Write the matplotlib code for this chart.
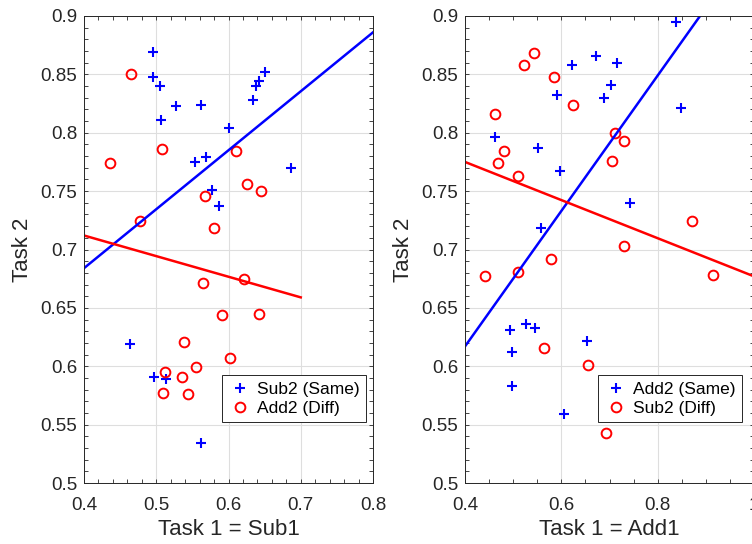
import matplotlib
matplotlib.use('Agg')
import matplotlib.pyplot as plt
from matplotlib.ticker import MultipleLocator, FixedLocator, FixedFormatter

plt.rcParams['font.family'] = ['Liberation Sans', 'DejaVu Sans']

# ---------------- Left panel: Task 1 = Sub1 ----------------
left_same_label = 'Sub2 (Same)'
left_same_x = [0.495, 0.495, 0.505, 0.506, 0.527, 0.562, 0.600, 0.634, 0.638, 0.642,
               0.651, 0.554, 0.569, 0.687, 0.577, 0.587, 0.463, 0.497, 0.513, 0.562]
left_same_y = [0.869, 0.848, 0.840, 0.811, 0.823, 0.824, 0.804, 0.828, 0.840, 0.844,
               0.852, 0.775, 0.779, 0.770, 0.751, 0.737, 0.619, 0.591, 0.589, 0.534]
left_diff_label = 'Add2 (Diff)'
left_diff_x = [0.465, 0.436, 0.508, 0.611, 0.626, 0.645, 0.568, 0.477, 0.580, 0.565,
               0.622, 0.591, 0.642, 0.539, 0.602, 0.555, 0.512, 0.536, 0.510, 0.544]
left_diff_y = [0.850, 0.7745, 0.786, 0.784, 0.756, 0.750, 0.746, 0.724, 0.718, 0.671,
               0.675, 0.644, 0.645, 0.621, 0.607, 0.599, 0.595, 0.591, 0.577, 0.576]
left_same_fit_x = [0.4, 0.8]
left_same_fit_y = [0.684, 0.886]
left_diff_fit_x = [0.4, 0.7]
left_diff_fit_y = [0.712, 0.659]

# ---------------- Right panel: Task 1 = Add1 ----------------
right_same_label = 'Add2 (Same)'
right_same_x = [0.838, 0.623, 0.673, 0.716, 0.703, 0.689, 0.590, 0.849, 0.462, 0.552,
                0.598, 0.742, 0.558, 0.493, 0.527, 0.545, 0.654, 0.498, 0.498, 0.606]
right_same_y = [0.895, 0.858, 0.866, 0.860, 0.841, 0.830, 0.832, 0.821, 0.796, 0.787,
                0.767, 0.740, 0.718, 0.631, 0.636, 0.633, 0.622, 0.612, 0.583, 0.559]
right_diff_label = 'Sub2 (Diff)'
right_diff_x = [0.543, 0.523, 0.585, 0.625, 0.463, 0.711, 0.731, 0.482, 0.468, 0.706,
                0.509, 0.871, 0.730, 0.579, 0.442, 0.509, 0.914, 0.565, 0.655, 0.692]
right_diff_y = [0.868, 0.858, 0.848, 0.824, 0.816, 0.800, 0.793, 0.784, 0.774, 0.776,
                0.763, 0.724, 0.703, 0.692, 0.677, 0.681, 0.678, 0.616, 0.601, 0.543]
right_same_fit_x = [0.4, 1.0]
right_same_fit_y = [0.617, 0.965]
right_diff_fit_x = [0.4, 1.0]
right_diff_fit_y = [0.775, 0.677]

y_label = 'Task 2'
left_xlabel = 'Task 1 = Sub1'
right_xlabel = 'Task 1 = Add1'
left_xticks = [0.4, 0.5, 0.6, 0.7, 0.8]
left_xticklabels = ['0.4', '0.5', '0.6', '0.7', '0.8']
right_xticks = [0.4, 0.6, 0.8, 1.0]
right_xticklabels = ['0.4', '0.6', '0.8', '1']
yticks = [0.5, 0.55, 0.6, 0.65, 0.7, 0.75, 0.8, 0.85, 0.9]
yticklabels = ['0.5', '0.55', '0.6', '0.65', '0.7', '0.75', '0.8', '0.85', '0.9']

W, H = 752, 544
fig = plt.figure(figsize=(W / 100, H / 100), dpi=100)
ax1 = fig.add_axes([84 / W, 61 / H, 289 / W, 467 / H])
ax2 = fig.add_axes([465 / W, 61 / H, 289 / W, 467 / H])

DARK = '#262626'


def style(ax, xlim, xticks, xticklabels, xminor, xlabel):
    ax.set_xlim(*xlim)
    ax.set_ylim(0.5, 0.9)
    ax.xaxis.set_major_locator(FixedLocator(xticks))
    ax.xaxis.set_major_formatter(FixedFormatter(xticklabels))
    ax.yaxis.set_major_locator(FixedLocator(yticks))
    ax.yaxis.set_major_formatter(FixedFormatter(yticklabels))
    ax.xaxis.set_minor_locator(MultipleLocator(xminor))
    ax.yaxis.set_minor_locator(MultipleLocator(0.01))
    ax.tick_params(which='both', direction='in', top=True, right=True,
                   color=DARK, labelcolor=DARK, labelsize=13.5,
                   length=2.6, width=0.6)
    ax.tick_params(axis='x', which='major', pad=10)
    ax.tick_params(axis='y', which='major', pad=5)
    for s in ax.spines.values():
        s.set_color(DARK)
        s.set_linewidth(0.7)
    ax.grid(True, which='major', color='#dedede', linewidth=0.8)
    ax.set_axisbelow(True)
    ax.set_xlabel(xlabel, fontsize=16, color=DARK, labelpad=4)
    ax.set_ylabel(y_label, fontsize=16, color=DARK, labelpad=5)


def panel(ax, sx, sy, slab, dx, dy, dlab, sfx, sfy, dfx, dfy, legend_x):
    ax.plot(sx, sy, linestyle='none', marker='+', color='#0000ff',
            markersize=7, markeredgewidth=1.5, label=slab)
    ax.plot(dx, dy, linestyle='none', marker='o', markerfacecolor='none',
            markeredgecolor='#ff0000', markersize=7, markeredgewidth=1.4, label=dlab)
    ax.plot(sfx, sfy, color='#0000ff', linewidth=1.8)
    ax.plot(dfx, dfy, color='#ff0000', linewidth=1.8)
    leg = ax.legend(loc='lower right', bbox_to_anchor=(legend_x, 0.13),
                    borderaxespad=0, fancybox=False, framealpha=1,
                    edgecolor=DARK, fontsize=12.5, handlelength=1.4,
                    handletextpad=0.3, borderpad=0.35, labelspacing=0.25)
    leg.get_frame().set_linewidth(0.7)


style(ax1, (0.4, 0.8), left_xticks, left_xticklabels, 0.02, left_xlabel)
style(ax2, (0.4, 1.0), right_xticks, right_xticklabels, 0.05, right_xlabel)
panel(ax1, left_same_x, left_same_y, left_same_label, left_diff_x, left_diff_y,
      left_diff_label, left_same_fit_x, left_same_fit_y, left_diff_fit_x,
      left_diff_fit_y, 0.976)
panel(ax2, right_same_x, right_same_y, right_same_label, right_diff_x, right_diff_y,
      right_diff_label, right_same_fit_x, right_same_fit_y, right_diff_fit_x,
      right_diff_fit_y, 0.958)

fig.savefig('out.png', dpi=100)
